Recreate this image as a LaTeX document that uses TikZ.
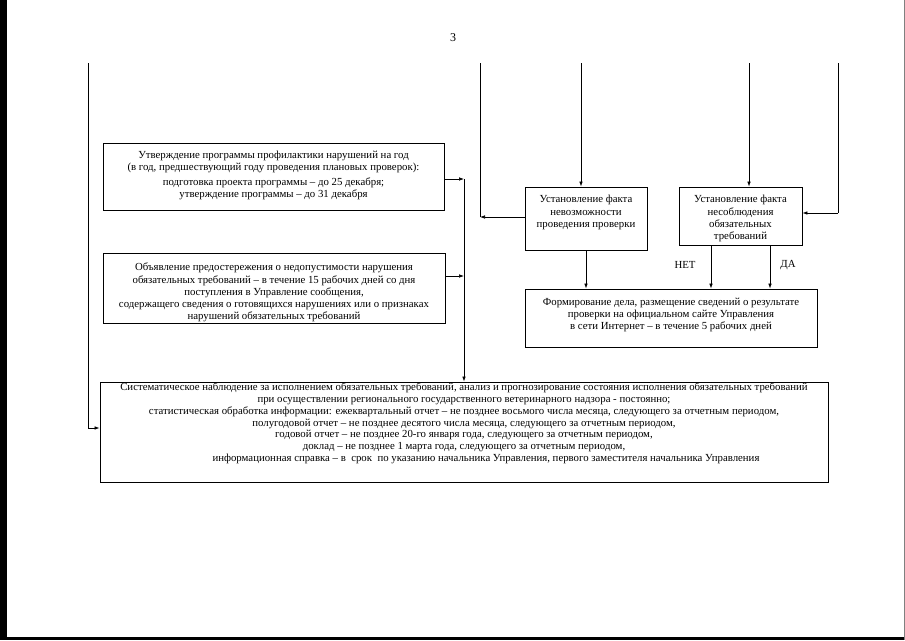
\documentclass[tikz,border=0pt]{standalone}
\usepackage{fontspec}
\setmainfont{Liberation Serif}
\usetikzlibrary{arrows.meta,calc}
\newcommand\dfont{\fontsize{10.8}{12.3}\selectfont}
\newcommand\topbox[3]{\begin{minipage}[c][#1][t]{#2}\centering #3\end{minipage}}
\begin{document}
\begin{tikzpicture}[x=1pt,y=-1pt,
  box/.style={draw, line width=0.8pt, inner sep=0pt, align=center, font=\dfont},
  lbl/.style={inner sep=0pt, font=\dfont},
  ln/.style={line width=0.7pt},
  arr/.style={line width=0.7pt,-{Latex[length=5pt,width=3.6pt]}}]
\useasboundingbox (0,0) rectangle (905,640);
% scan border
\fill[black] (0,0) rectangle (7,640);
\fill[black] (0,637) rectangle (905,640);
\draw[gray,line width=1pt] (904,0) -- (904,640);
% page number
\node[lbl, font=\fontsize{12}{14}\selectfont] (pg) at (453,38) {3};
% boxes
\node[box] (P1) at (273.5,176.5)
 {\topbox{67pt}{341pt}{\dfont\vspace*{8pt}Утверждение программы профилактики нарушений на год\\
  (в год, предшествующий году проведения плановых проверок):\\[2pt]
  подготовка проекта программы – до 25 декабря;\\
  утверждение программы – до 31 декабря}};
\node[box] (P2) at (274,288)
 {\topbox{70pt}{342pt}{\dfont\vspace*{10pt}Объявление предостережения о недопустимости нарушения\\
  обязательных требований – в течение 15 рабочих дней со дня\\
  поступления в Управление сообщения,\\
  содержащего сведения о готовящихся нарушениях или о признаках\\
  нарушений обязательных требований}};
\node[box] (A) at (586,218.5)
 {\topbox{63pt}{122pt}{\dfont\vspace*{8.5pt}Установление факта\\невозможности\\проведения проверки}};
\node[box] (B) at (740.5,216)
 {\topbox{58pt}{123pt}{\dfont\vspace*{8.5pt}Установление факта\\несоблюдения\\обязательных\\требований}};
\node[box] (C) at (671,318)
 {\topbox{58pt}{292pt}{\dfont\vspace*{9pt}Формирование дела, размещение сведений о результате\\
  проверки на официальном сайте Управления\\
  в сети Интернет – в течение 5 рабочих дней}};
\node[box] (D) at (464,432)
 {\topbox{100pt}{728pt}{\fontsize{10.8}{11.8}\selectfont\vspace*{1pt}Систематическое наблюдение за исполнением обязательных требований, анализ и прогнозирование состояния исполнения обязательных требований\\
  при осуществлении регионального государственного ветеринарного надзора - постоянно;\hspace*{40pt}\\
  статистическая обработка информации: ежеквартальный отчет – не позднее восьмого числа месяца, следующего за отчетным периодом,\\
  полугодовой отчет – не позднее десятого числа месяца, следующего за отчетным периодом,\\
  годовой отчет – не позднее 20-го января года, следующего за отчетным периодом,\\
  доклад – не позднее 1 марта года, следующего за отчетным периодом,\\
  \hspace*{44pt}информационная справка – в\ \ срок\ \ по указанию начальника Управления, первого заместителя начальника Управления}};
% labels
\node[lbl] (net) at (685,265) {НЕТ};
\node[lbl] (da) at (788,265) {ДА};
% top free ends
\coordinate (t1) at (88,63);
\coordinate (t2) at (480,63);
\coordinate (t3) at (581,63);
\coordinate (t4) at (749,63);
\coordinate (t5) at (838,63);
\coordinate (bus1) at (464,179);
\coordinate (bus2) at (464,276);
% connectors
\draw[arr] (t1) |- ([yshift=4pt]D.west);
\draw[arr] (P1.east |- bus1) -- (bus1);
\draw[arr] (P2.east |- bus2) -- (bus2);
\draw[arr] (bus1) -- (bus1 |- D.north);
\draw[ln] (t2) -- (t2 |- 0,217);
\draw[arr] (A.west |- 0,217) -- (t2 |- 0,217);
\draw[arr] (t3) -- (t3 |- A.north);
\draw[arr] (t4) -- (t4 |- B.north);
\draw[ln] (t5) -- (t5 |- 0,213);
\draw[arr] (t5 |- 0,213) -- (B.east |- 0,213);
\draw[arr] (A.south) -- (A.south |- C.north);
\draw[arr] (B.south -| 711,0) -- (711,0 |- C.north);
\draw[arr] (B.south -| 770,0) -- (770,0 |- C.north);
\end{tikzpicture}
\end{document}
